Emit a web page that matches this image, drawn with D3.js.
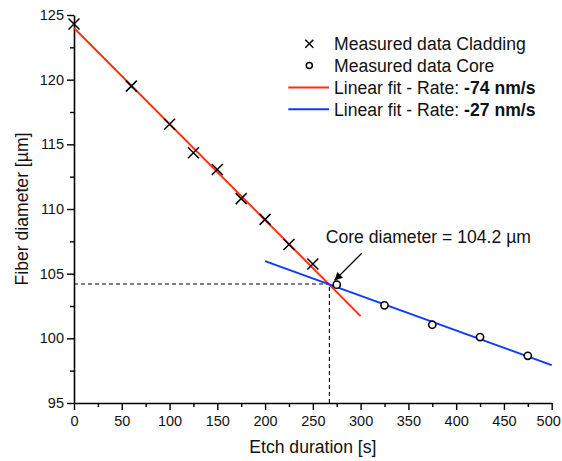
<!DOCTYPE html>
<html>
<head>
<meta charset="utf-8">
<script src="https://cdn.jsdelivr.net/npm/d3@7/dist/d3.min.js"></script>
<style>
  html, body { margin: 0; padding: 0; background: #fff; }
  svg { display: block; font-family: "Liberation Sans", Arial, sans-serif; }
</style>
</head>
<body>
<svg id="chart" width="562" height="461"></svg>
<script>
// ---- data ----
const claddingTime = [0, 60, 100, 125, 150, 175, 200, 225, 250];
const claddingDiam = [124.3, 119.5, 116.55, 114.35, 113.05, 110.8, 109.2, 107.25, 105.75];
const coreTime = [275, 325, 375, 425, 475];
const coreDiam = [104.15, 102.55, 101.05, 100.1, 98.65];
const fitCladding = [[0, 124.0], [300, 101.72]];
const fitCore = [[200, 105.97], [500, 97.93]];
const intersection = [267.3, 104.2];
const xTicks = [0, 50, 100, 150, 200, 250, 300, 350, 400, 450, 500];
const xMinor = [25, 75, 125, 175, 225, 275, 325, 375, 425, 475];
const yTicks = [95, 100, 105, 110, 115, 120, 125];
const yMinor = [97.5, 102.5, 107.5, 112.5, 117.5, 122.5];
const legendLabels = ["Measured data Cladding", "Measured data Core", "Linear fit - Rate: ", "Linear fit - Rate: "];
const legendBold = ["", "", "-74 nm/s", "-27 nm/s"];
const annotation = "Core diameter = 104.2 µm";

// ---- layout ----
const svg = d3.select("#chart");
const x = d3.scaleLinear().domain([0, 500]).range([74, 551.7]);
const y = d3.scaleLinear().domain([95, 125]).range([403, 15]);
const red = "#ff3010", blue = "#0a3cff";

// axes
function styleAxis(g) {
  g.selectAll("path.domain").attr("stroke", "#000").attr("stroke-width", 1.6);
  g.selectAll(".tick line").attr("stroke", "#000").attr("stroke-width", 1.4);
  g.selectAll(".tick text").attr("fill", "#111").style("font-size", "14.5px")
    .style("font-family", '"Liberation Sans", Arial, sans-serif');
}
svg.append("g").attr("transform", `translate(0,${y(95)})`)
  .call(d3.axisBottom(x).tickValues(xMinor).tickSize(4).tickFormat("").tickSizeOuter(0))
  .call(g => g.select("path.domain").remove())
  .call(styleAxis);
svg.append("g").attr("transform", `translate(${x(0)},0)`)
  .call(d3.axisLeft(y).tickValues(yMinor).tickSize(4).tickFormat("").tickSizeOuter(0))
  .call(g => g.select("path.domain").remove())
  .call(styleAxis);
svg.append("g").attr("transform", `translate(0,${y(95)})`)
  .call(d3.axisBottom(x).tickValues(xTicks).tickSize(7).tickPadding(6).tickSizeOuter(0).tickFormat(d3.format("d")))
  .call(styleAxis)
  .call(g => g.selectAll(".tick text").filter(d => d === 500).attr("dx", -3.5));
svg.append("g").attr("transform", `translate(${x(0)},0)`)
  .call(d3.axisLeft(y).tickValues(yTicks).tickSize(7).tickPadding(3).tickSizeOuter(0).tickFormat(d3.format("d")))
  .call(styleAxis);

// axis titles
svg.append("text").attr("x", (x(0) + x(500)) / 2).attr("y", 452.5)
  .attr("text-anchor", "middle").style("font-size", "17.6px").attr("fill", "#111")
  .text("Etch duration [s]");
svg.append("text").attr("transform", `translate(28,${(y(95) + y(125)) / 2}) rotate(-90)`)
  .attr("text-anchor", "middle").style("font-size", "17.6px").attr("fill", "#111")
  .text("Fiber diameter [µm]");

// dashed guide lines
svg.append("line").attr("x1", x(0)).attr("x2", x(intersection[0]))
  .attr("y1", y(intersection[1])).attr("y2", y(intersection[1]))
  .attr("stroke", "#000").attr("stroke-width", 1.1).attr("stroke-dasharray", "4,3");
svg.append("line").attr("x1", x(intersection[0])).attr("x2", x(intersection[0]))
  .attr("y1", y(95)).attr("y2", y(intersection[1]))
  .attr("stroke", "#000").attr("stroke-width", 1.1).attr("stroke-dasharray", "4,3");

// fit lines
const line = d3.line().x(d => x(d[0])).y(d => y(d[1]));
svg.append("path").datum(fitCladding).attr("d", line)
  .attr("fill", "none").attr("stroke", red).attr("stroke-width", 2);
svg.append("path").datum(fitCore).attr("d", line)
  .attr("fill", "none").attr("stroke", blue).attr("stroke-width", 2);

// markers
const crossPath = s => `M${-s},${-s}L${s},${s}M${-s},${s}L${s},${-s}`;
svg.append("g").selectAll("path").data(claddingTime.map((t, i) => [t, claddingDiam[i]]))
  .join("path").attr("transform", d => `translate(${x(d[0])},${y(d[1])})`)
  .attr("d", crossPath(5.5)).attr("stroke", "#000").attr("stroke-width", 1.5).attr("fill", "none");
svg.append("g").selectAll("circle").data(coreTime.map((t, i) => [t, coreDiam[i]]))
  .join("circle").attr("cx", d => x(d[0])).attr("cy", d => y(d[1])).attr("r", 3.6)
  .attr("stroke", "#000").attr("stroke-width", 1.6).attr("fill", "#fff");

// annotation
svg.append("defs").append("marker").attr("id", "ah")
  .attr("viewBox", "0 0 10 10").attr("refX", 10).attr("refY", 5)
  .attr("markerWidth", 11).attr("markerHeight", 8).attr("markerUnits", "userSpaceOnUse")
  .attr("orient", "auto")
  .append("path").attr("d", "M0,0L10,5L0,10Z").attr("fill", "#000");
svg.append("line").attr("x1", 361.7).attr("y1", 253.3).attr("x2", 334.5).attr("y2", 280.5)
  .attr("stroke", "#000").attr("stroke-width", 1.3).attr("marker-end", "url(#ah)");
svg.append("text").attr("x", 325.7).attr("y", 242.7).style("font-size", "17.6px")
  .attr("fill", "#111").text(annotation);

// legend
const lg = svg.append("g");
const rowY = [50, 71.8, 93.8, 115.5];
legendLabels.forEach((lab, i) => {
  const by = rowY[i], cy = by - 6.2;
  if (i === 0) {
    lg.append("path").attr("transform", `translate(309.3,${cy})`).attr("d", crossPath(4))
      .attr("stroke", "#000").attr("stroke-width", 1.5).attr("fill", "none");
  } else if (i === 1) {
    lg.append("circle").attr("cx", 309.3).attr("cy", cy).attr("r", 3)
      .attr("stroke", "#000").attr("stroke-width", 1.5).attr("fill", "#fff");
  } else {
    lg.append("line").attr("x1", 288.3).attr("x2", 329).attr("y1", cy).attr("y2", cy)
      .attr("stroke", i === 2 ? red : blue).attr("stroke-width", 2);
  }
  const t = lg.append("text").attr("x", 334).attr("y", by).style("font-size", "17.6px").attr("fill", "#111");
  t.append("tspan").text(lab);
  if (legendBold[i]) t.append("tspan").style("font-weight", "bold").text(legendBold[i]);
});
</script>
</body>
</html>
